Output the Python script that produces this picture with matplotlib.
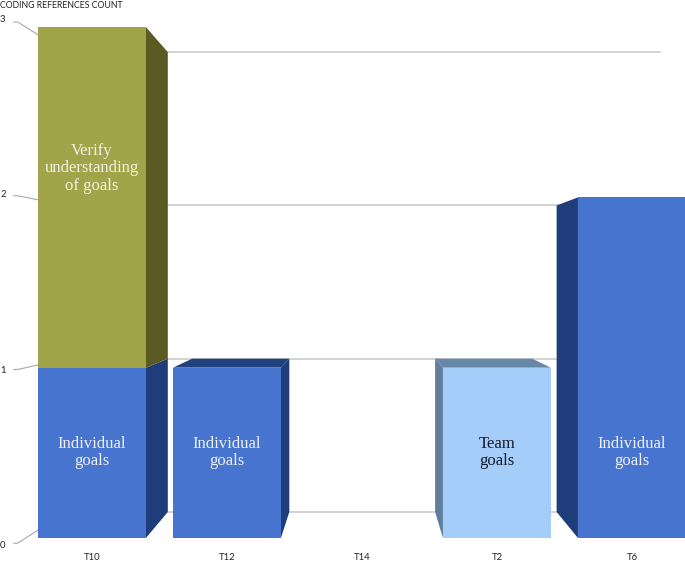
import matplotlib.pyplot as plt
from matplotlib.patches import Polygon
import numpy as np

# Data: coding references per team, stacked by code
categories = ['T10', 'T12', 'T14', 'T2', 'T6']
individual_goals = [1, 1, 0, 0, 2]
team_goals = [0, 0, 0, 1, 0]
verify_goals = [2, 0, 0, 0, 0]

series_names = ['Individual\ngoals', 'Team\ngoals', 'Verify\nunderstanding\nof goals']
series_values = [individual_goals, team_goals, verify_goals]
y_ticks = [0, 1, 2, 3]

# colours: front face, side face, top face, label colour
front_colors = ['#4674CF', '#A5CDF9', '#A2A44A']
side_colors = ['#1F3D7B', '#5E7E9E', '#5A5A22']
top_colors = ['#22417F', '#6787A6', '#5F5F26']
text_colors = ['#EEF0F6', '#1A1A28', '#F3F1E2']

# fake 3D: back plane = front scaled toward a vanishing point (data units)
VX, VY = 2.02, 1.527
K = 0.1
width = 0.8


def persp(x, y, k=K):
    return x + k * (VX - x), y + k * (VY - y)


fig = plt.figure(figsize=(6.85, 5.63), dpi=100)
ax = fig.add_axes([0, 0, 1, 1])
ax.set_xlim(-0.681, 4.393)
ax.set_ylim(-0.147, 3.159)
ax.axis('off')

# gridlines on the back wall
for v in y_ticks:
    x0, y0 = persp(-0.4, v)
    x1, y1 = persp(4.45, v)
    ax.plot([x0, x1], [y0, y1], color='#C6C6C6', lw=1.1, zorder=1)

# y tick labels with slanted tick lines
for v in y_ticks:
    _, ys = persp(0, v, -0.02)
    _, ye = persp(0, v, 0.03)
    ax.plot([-0.58, -0.55, -0.40], [ys, ys, ye], color='#A8A8A8', lw=0.8, zorder=1)
    _, yl = persp(0, v, -0.03)
    ax.text(-0.66, yl, str(v), ha='center', va='center', fontsize=6.8,
            family='Lato', color='#222222')

# bars
x = np.arange(len(categories))
bottoms = np.zeros(len(categories))
totals = np.sum(series_values, axis=0)
label_y = {0: 0.5, 1: 0.5, 2: 2.17}  # label heights per series (as in the original)

for s, vals in enumerate(series_values):
    vals = np.array(vals, dtype=float)
    bars = ax.bar(x, vals, width=width, bottom=bottoms, color=front_colors[s],
                  zorder=3, linewidth=0)
    for i, bar in enumerate(bars):
        h = vals[i]
        if h <= 0:
            continue
        b = bottoms[i]
        t = b + h
        left = bar.get_x()
        right = left + bar.get_width()
        edge = right if x[i] < VX else left
        pts = [(edge, b), (edge, t), persp(edge, t), persp(edge, b)]
        ax.add_patch(Polygon(pts, closed=True, facecolor=side_colors[s],
                             edgecolor='none', zorder=2))
        if t >= totals[i] and t < VY:
            pts = [(left, t), (right, t), persp(right, t), persp(left, t)]
            ax.add_patch(Polygon(pts, closed=True, facecolor=top_colors[s],
                                 edgecolor='none', zorder=2))
        ax.text(x[i], label_y[s], series_names[s], ha='center', va='center',
                fontsize=12, family='Liberation Serif', color=text_colors[s],
                linespacing=1.1, zorder=4)
    bottoms = bottoms + vals

# category labels
for i, c in enumerate(categories):
    ax.text(x[i], -0.112, c, ha='center', va='center', fontsize=6.8,
            family='Lato', color='#222222')

fig.text(0.0, 1 - 6 / 563, 'CODING REFERENCES COUNT', ha='left', va='center',
         fontsize=6.3, family='Lato', color='#222222')

plt.savefig('out.png', dpi=100)
